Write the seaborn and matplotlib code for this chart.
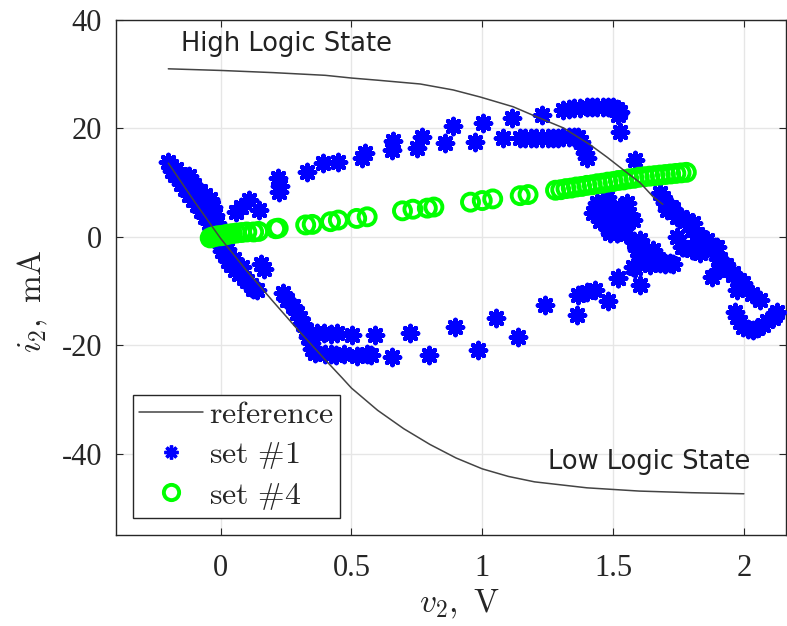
import numpy as np
import pandas as pd
import seaborn as sns
from matplotlib import pyplot as plt
from matplotlib.lines import Line2D

# reference curves (high / low logic state)
ref_hi_v = [-0.2, 0.0, 0.2, 0.4, 0.5, 0.6, 0.763, 0.889, 0.992, 1.118, 1.21, 1.31,
            1.412, 1.477, 1.538, 1.603, 1.653, 1.69]
ref_hi_i = [31.0, 30.7, 30.3, 29.8, 29.3, 28.9, 28.2, 27.1, 25.8, 24.0, 22.1, 20.1,
            17.0, 14.7, 12.4, 10.0, 7.4, 6.0]
ref_lo_v = [-0.2, -0.1, 0.0, 0.1, 0.2, 0.3, 0.4, 0.464, 0.5, 0.6, 0.7, 0.8, 0.9,
            1.0, 1.1, 1.2, 1.4, 1.6, 1.8, 2.0]
ref_lo_i = [13.6, 6.5, -0.3, -6.3, -11.9, -17.4, -22.7, -26.0, -27.9, -32.0, -35.4,
            -38.3, -40.8, -42.8, -44.2, -45.2, -46.3, -46.9, -47.2, -47.4]

# set #1 - left band
band_v = [-0.20, -0.19, -0.185, -0.175, -0.17, -0.16, -0.155, -0.15, -0.14, -0.135,
          -0.125, -0.12, -0.11, -0.105, -0.095, -0.09, -0.08, -0.075, -0.065, -0.06,
          -0.05, -0.045, -0.035, -0.03, -0.02, -0.01, 0.0, 0.005, 0.015, 0.025,
          0.03, 0.04, 0.05, 0.055, 0.07, 0.08, 0.09, 0.10, 0.115, 0.125,
          0.14, 0.155, 0.165, 0.24, 0.255, 0.275, 0.29, 0.305, 0.315, 0.325,
          0.335, 0.345, 0.35, 0.36,
          -0.12, -0.10, -0.08, -0.06, -0.04, -0.03, -0.02, -0.015]
band_i = [13.8, 13.0, 12.2, 11.5, 12.6, 10.8, 11.6, 9.8, 10.6, 8.8,
          9.6, 7.8, 8.6, 6.8, 7.8, 5.8, 6.6, 4.8, 5.6, 3.6,
          4.4, 2.6, 3.0, 1.4, 0.6, -0.6, -1.6, -2.6, -3.4, -2.2,
          -4.4, -5.2, -4.0, -6.2, -6.8, -5.6, -7.6, -8.2, -8.8, -9.6,
          -9.8, -5.0, -6.0, -10.3, -11.6, -12.8, -14.0, -15.0, -16.0, -17.2,
          -18.4, -19.6, -20.6, -21.4,
          11.2, 9.5, 8.4, 7.8, 7.0, 5.5, 4.0, 2.5]

# set #1 - upper branch
up_v = [0.057, 0.076, 0.107, 0.146, 0.22, 0.222, 0.225, 0.33, 0.393, 0.45,
        0.54, 0.55, 0.656, 0.66, 0.752, 0.771, 0.859, 0.889, 0.973, 1.004,
        1.08, 1.115, 1.145, 1.164, 1.185, 1.205, 1.229, 1.23, 1.25, 1.27,
        1.29, 1.31, 1.33, 1.35, 1.366, 1.378, 1.385, 1.392, 1.40,
        1.31, 1.33, 1.35, 1.374, 1.40, 1.42, 1.44, 1.46, 1.48, 1.50,
        1.515, 1.527, 1.52, 1.527, 1.584]
up_i = [4.6, 5.5, 6.8, 5.0, 10.8, 8.2, 9.4, 11.9, 13.7, 13.8,
        14.6, 15.4, 16.0, 17.6, 16.4, 18.4, 17.3, 20.4, 17.5, 21.0,
        18.2, 22.0, 18.2, 18.2, 18.2, 18.2, 18.2, 22.5, 18.2, 18.2,
        18.3, 18.4, 18.4, 18.4, 18.4, 17.5, 16.6, 15.5, 14.5,
        23.4, 23.6, 23.7, 23.8, 23.9, 24.0, 24.0, 24.0, 24.0, 24.0,
        23.6, 23.0, 22.4, 19.4, 14.2]

# set #1 - lower branch
low_v = [0.37, 0.395, 0.42, 0.446, 0.40, 0.42, 0.44, 0.47, 0.503, 0.52,
         0.56, 0.573, 0.59, 0.656, 0.725, 0.795, 0.897, 0.985, 1.053, 1.137,
         1.24, 1.363, 1.366, 1.40, 1.431, 1.481, 1.519]
low_i = [-17.8, -17.7, -17.9, -17.7, -21.7, -21.7, -21.8, -21.7, -18.1, -22.0,
         -21.7, -21.8, -18.1, -22.1, -17.7, -21.8, -16.6, -20.8, -14.9, -18.4,
         -12.5, -14.4, -10.7, -10.1, -9.8, -11.9, -7.6]

# set #1 - right cluster
rc_v = [1.424, 1.439, 1.462, 1.477, 1.50, 1.515, 1.527, 1.538, 1.553, 1.576,
        1.59, 1.603, 1.615, 1.63, 1.653, 1.679, 1.69, 1.70, 1.706, 1.72,
        1.744, 1.744, 1.76, 1.767, 1.775, 1.782, 1.79, 1.80, 1.805, 1.82,
        1.832, 1.835, 1.85, 1.859, 1.87, 1.889, 1.897, 1.91, 1.93,
        1.58, 1.60, 1.62, 1.64, 1.66, 1.68, 1.70, 1.718, 1.763, 1.80,
        1.832, 1.86, 1.88, 1.90, 1.92, 1.94, 1.958, 1.973, 1.98, 1.996, 2.06,
        1.584, 1.603, 1.576, 1.519, 1.515, 1.49]
rc_i = [4.4, 5.5, 5.0, 7.4, 3.7, 0.7, 5.5, 1.3, 6.3, 3.1,
        -2.4, -0.5, -3.0, -2.4, -2.4, 8.1, 7.2, 6.2, 5.0, 5.5,
        3.7, 0.0, 3.7, -1.8, 3.0, 3.1, 2.2, 1.2, 2.6, 0.4,
        0.0, -0.5, -1.2, -0.5, -1.8, -1.8, -1.8, -4.0, -5.2,
        -1.0, -2.5, -4.0, -5.2, -3.5, -4.8, -5.0, -4.8, -1.8, -2.5,
        -3.0, -2.0, -7.4, -6.2, -5.5, -6.0, -6.7, -9.8, -8.0, -8.5, -11.6,
        -5.7, -8.8, -5.5, -7.6, 0.7, 0.7]

# set #1 - extra fill of the two diagonal bands on the right
rd_v = [1.44, 1.47, 1.50, 1.52, 1.55, 1.58, 1.61, 1.64, 1.67, 1.70, 1.73,
        1.70, 1.73, 1.76, 1.79, 1.82, 1.85, 1.88, 1.90, 1.93, 1.96, 1.99, 2.03,
        1.45, 1.48, 1.46, 1.56, 1.53]
rd_i = [6.3, 4.5, 3.2, 1.5, 0.5, -0.8, -2.0, -3.2, -4.0, -4.8, -5.0,
        6.5, 5.2, 3.7, 2.2, 0.5, -1.0, -2.2, -4.0, -5.5, -7.0, -8.5, -10.5,
        3.0, 1.5, 5.8, 4.2, 2.4]

# set #1 - hook at the far right
hook_v = [1.965, 1.973, 1.985, 1.996, 2.015, 2.034, 2.05, 2.073, 2.09, 2.11, 2.126, 2.12]
hook_i = [-13.8, -14.7, -15.8, -16.6, -17.0, -17.1, -16.8, -16.2, -15.6, -14.9, -13.8, -14.5]

# set #4
s4_v = [-0.04, -0.03, -0.02, -0.01, 0.0, 0.01, 0.02, 0.03, 0.045, 0.06,
        0.08, 0.10, 0.126, 0.145, 0.21, 0.22, 0.325, 0.35, 0.42, 0.45,
        0.52, 0.56, 0.695, 0.735, 0.79, 0.815, 0.955, 1.0, 1.04, 1.145,
        1.175, 1.28, 1.30, 1.32, 1.34, 1.36, 1.38, 1.40, 1.42, 1.44,
        1.46, 1.48, 1.50, 1.52, 1.54, 1.56, 1.58, 1.60, 1.62, 1.64,
        1.66, 1.68, 1.70, 1.72, 1.74, 1.76, 1.78]
s4_i = [-0.2, 0.0, 0.1, 0.2, 0.2, 0.3, 0.4, 0.5, 0.6, 0.7,
        0.8, 0.9, 0.9, 1.0, 1.5, 1.6, 2.2, 2.3, 2.8, 3.1,
        3.4, 3.7, 4.8, 5.1, 5.3, 5.5, 6.4, 6.7, 7.0, 7.6,
        7.8, 8.6, 8.7, 8.9, 9.0, 9.2, 9.3, 9.5, 9.6, 9.8,
        9.9, 10.1, 10.2, 10.4, 10.5, 10.7, 10.8, 11.0, 11.1, 11.2,
        11.3, 11.4, 11.5, 11.6, 11.7, 11.8, 11.9]

set1 = pd.concat([
    pd.DataFrame({'v': band_v, 'i': band_i}),
    pd.DataFrame({'v': up_v, 'i': up_i}),
    pd.DataFrame({'v': low_v, 'i': low_i}),
    pd.DataFrame({'v': rc_v, 'i': rc_i}),
    pd.DataFrame({'v': rd_v, 'i': rd_i}),
    pd.DataFrame({'v': hook_v, 'i': hook_i}),
], ignore_index=True)
set4 = pd.DataFrame({'v': s4_v, 'i': s4_i})

sns.set_style('whitegrid')
plt.rcParams['font.family'] = ['Liberation Serif', 'DejaVu Serif']
plt.rcParams['mathtext.fontset'] = 'cm'
plt.rcParams['axes.unicode_minus'] = False

fig = plt.figure(figsize=(7.87, 6.26), dpi=100)
ax = fig.add_axes([0.1474, 0.1454, 0.851, 0.8226])

ref_col = '#444444'
blue = '#0000ff'
green = '#00ff00'
star = (8, 2, 0)

sns.scatterplot(data=set1, x='v', y='i', marker=star, s=120, color=blue,
                linewidth=3.2, ax=ax, zorder=3, legend=False)
sns.scatterplot(data=set4, x='v', y='i', marker='o', s=150, facecolors='none',
                edgecolor=green, linewidth=2.8, ax=ax, zorder=4, legend=False)
ax.plot(ref_hi_v, ref_hi_i, color=ref_col, lw=1.1, zorder=5)
ax.plot(ref_lo_v, ref_lo_i, color=ref_col, lw=1.1, zorder=5)

ax.set_xlim(-0.4, 2.16)
ax.set_ylim(-55, 40)
ax.set_xticks([0, 0.5, 1, 1.5, 2])
ax.set_xticklabels(['0', '0.5', '1', '1.5', '2'])
ax.set_yticks([-40, -20, 0, 20, 40])
ax.tick_params(labelsize=22, direction='in', length=5, width=0.8, color='#262626',
               top=True, right=True, bottom=True, left=True)
ax.tick_params(axis='x', pad=14)
ax.tick_params(axis='y', pad=10)
ax.grid(True, color='#e6e6e6', lw=1)
for sp in ax.spines.values():
    sp.set_color('#262626')
    sp.set_linewidth(1)

ax.set_xlabel(r'$v_2,\ \mathrm{V}$', fontsize=24)
ax.set_ylabel(r'$i_2,\ \mathrm{mA}$', fontsize=24)
ax.xaxis.set_label_coords(0.513, -0.103)
ax.yaxis.set_label_coords(-0.098, 0.455)

ax.text(-0.153, 35.6, 'High Logic State', family='DejaVu Sans', fontsize=18.5,
        color='#222222', va='center', ha='left')
ax.text(1.252, -41.5, 'Low Logic State', family='DejaVu Sans', fontsize=18.5,
        color='#222222', va='center', ha='left')

handles = [
    Line2D([], [], color=ref_col, lw=1.1),
    Line2D([], [], ls='none', marker=star, ms=10, mew=2.4, color=blue),
    Line2D([], [], ls='none', marker='o', ms=11, mew=2.8, mfc='none', mec=green),
]
labels = [r'$\mathrm{reference}$', r'$\mathrm{set\ \#1}$', r'$\mathrm{set\ \#4}$']
leg = ax.legend(handles, labels, loc='lower left', bbox_to_anchor=(0.025, 0.033),
                fontsize=23, frameon=True, fancybox=False, framealpha=1,
                edgecolor='#262626', handlelength=2.0, borderaxespad=0,
                borderpad=0.2, labelspacing=0.3, handletextpad=0.2)
leg.get_frame().set_linewidth(1)

plt.savefig('out.png', dpi=100)
